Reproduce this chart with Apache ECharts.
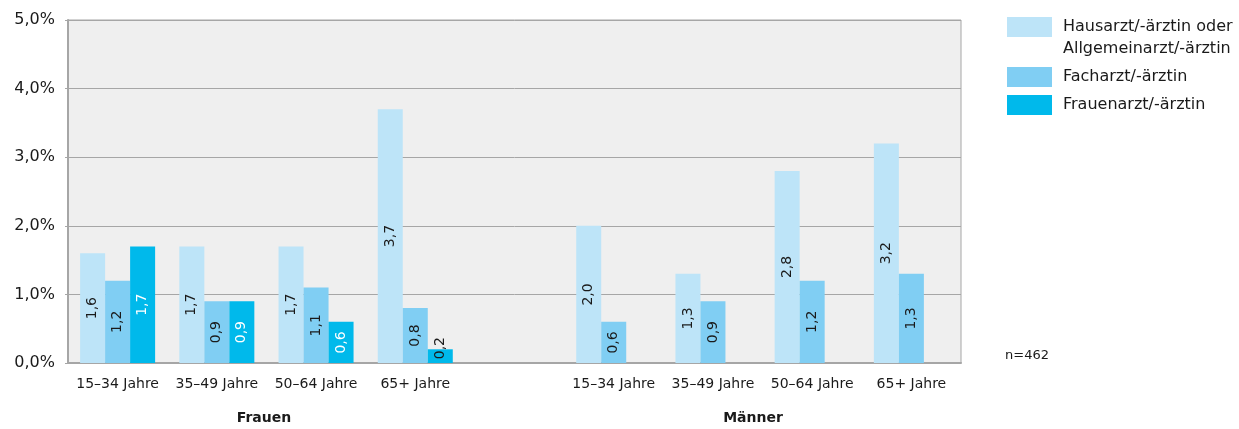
<!DOCTYPE html>
<html>
<head>
<meta charset="utf-8">
<script src="https://cdn.jsdelivr.net/npm/echarts@6/dist/echarts.min.js"></script>
<style>html,body{margin:0;padding:0;background:#fff}#c{width:1239px;height:429px}</style>
</head>
<body>
<div id="c"></div>
<script>
const categories = ['15–34 Jahre','35–49 Jahre','50–64 Jahre','65+ Jahre','','15–34 Jahre','35–49 Jahre','50–64 Jahre','65+ Jahre'];
const seriesNames = ['Hausarzt/-ärztin oder\nAllgemeinarzt/-ärztin','Facharzt/-ärztin','Frauenarzt/-ärztin'];
const hausarzt = [1.6, 1.7, 1.7, 3.7, null, 2.0, 1.3, 2.8, 3.2];
const facharzt = [1.2, 0.9, 1.1, 0.8, null, 0.6, 0.9, 1.2, 1.3];
const frauenarzt = [1.7, 0.9, 0.6, 0.2, null, null, null, null, null];
const groupLabels = ['Frauen','Männer'];
const yTicks = [0, 1, 2, 3, 4, 5];
const sampleNote = 'n=462';

const colors = ['#bde4f8', '#80cef3', '#00b9eb'];
const FONT = 'DejaVu Sans';
const fmt = v => v.toFixed(1).replace('.', ',');

function makeSeries(name, values, color, labelColor) {
  return {
    name: name,
    type: 'bar',
    barGap: '0%',
    barCategoryGap: '24.4%',
    itemStyle: { color: color },
    label: {
      show: true, position: 'inside', rotate: 90,
      fontFamily: FONT, fontSize: 14, color: labelColor,
      formatter: p => fmt(p.value)
    },
    data: values.map(v => (v !== null && v < 0.3) ? { value: v, label: { color: '#1a1a1a', offset: [8, 0] } } : v)
  };
}

const chart = echarts.init(document.getElementById('c'), null, { renderer: 'canvas' });
chart.setOption({
  animation: false,
  color: colors,
  textStyle: { fontFamily: FONT },
  grid: {
    left: 68, right: 278, top: 20, bottom: 66,
    show: true, backgroundColor: '#efefef', borderColor: '#a6a6a6', borderWidth: 1
  },
  legend: {
    orient: 'vertical', left: 1007, top: -6, padding: 0, itemGap: 6,
    itemWidth: 45, itemHeight: 20, icon: 'rect',
    textStyle: { fontFamily: FONT, fontSize: 16, color: '#1a1a1a', lineHeight: 22, padding: [0, 0, 0, 6] },
    formatter: name => (name === seriesNames[0] ? '\n' + name : name),
    data: seriesNames,
    selectedMode: false
  },
  xAxis: {
    type: 'category', data: categories,
    axisLine: { lineStyle: { color: '#a6a6a6', width: 2 } },
    axisTick: { show: false },
    axisLabel: { fontFamily: FONT, fontSize: 14, color: '#1a1a1a', margin: 14, interval: 0 }
  },
  yAxis: {
    type: 'value', min: yTicks[0], max: yTicks[yTicks.length - 1], interval: 1,
    axisLine: { show: true, lineStyle: { color: '#a6a6a6', width: 2 } },
    axisTick: { show: true, length: 3, lineStyle: { color: '#a6a6a6' } },
    splitLine: { lineStyle: { color: '#a6a6a6', width: 1 } },
    axisLabel: { fontFamily: FONT, fontSize: 16, color: '#1a1a1a', margin: 13, formatter: v => fmt(v) + '%' }
  },
  series: [
    makeSeries(seriesNames[0], hausarzt, colors[0], '#1a1a1a'),
    makeSeries(seriesNames[1], facharzt, colors[1], '#1a1a1a'),
    makeSeries(seriesNames[2], frauenarzt, colors[2], '#ffffff')
  ],
  graphic: [
    { type: 'text', x: 264, y: 418, style: { text: groupLabels[0], fontFamily: FONT, fontSize: 14, fontWeight: 'bold', fill: '#1a1a1a', align: 'center', verticalAlign: 'middle' } },
    { type: 'text', x: 753, y: 418, style: { text: groupLabels[1], fontFamily: FONT, fontSize: 14, fontWeight: 'bold', fill: '#1a1a1a', align: 'center', verticalAlign: 'middle' } },
    { type: 'text', x: 1005, y: 356, style: { text: sampleNote, fontFamily: FONT, fontSize: 13, fill: '#1a1a1a', align: 'left', verticalAlign: 'middle' } }
  ]
});
</script>
</body>
</html>
